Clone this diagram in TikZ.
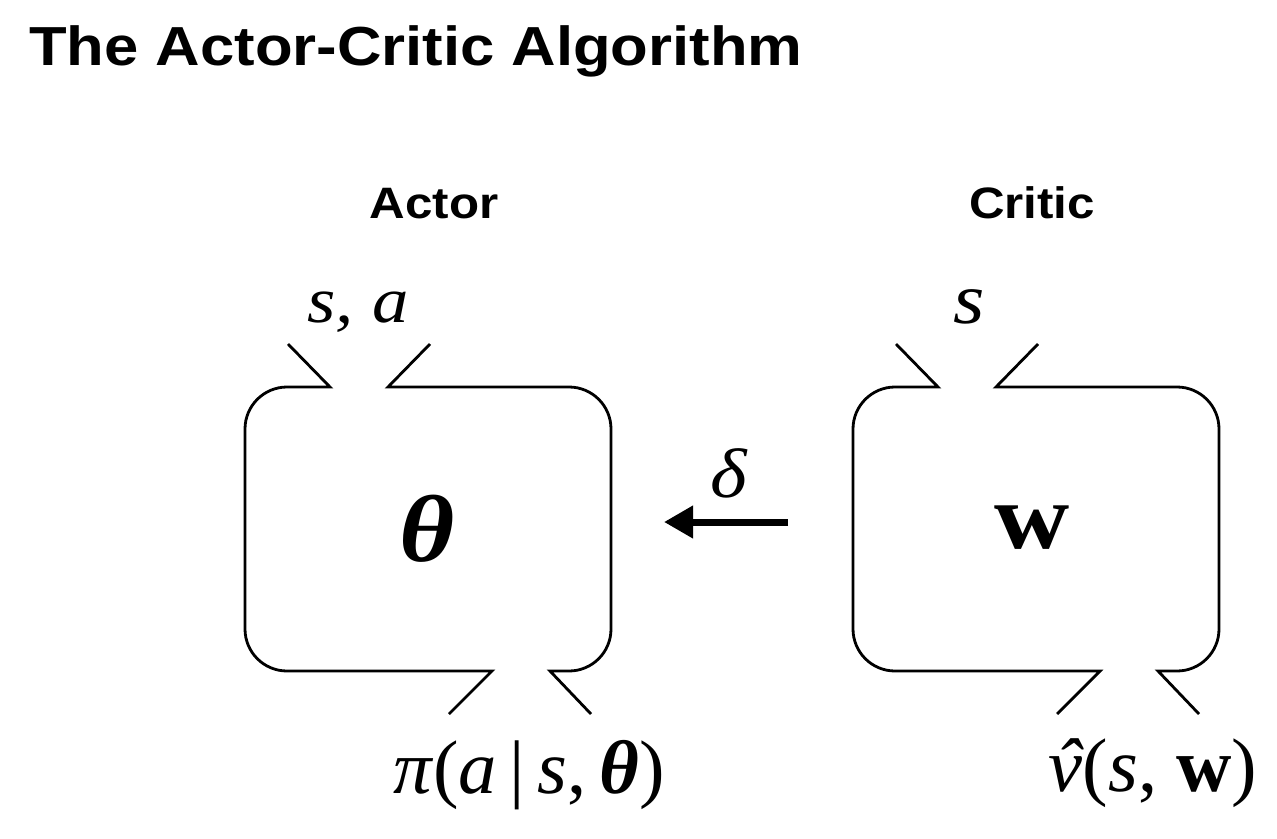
\documentclass[tikz,border=0pt]{standalone}
\usepackage{fontspec}
\setmainfont{Liberation Serif}
\setsansfont{Liberation Sans}
\usetikzlibrary{arrows.meta}

\newcommand{\fsz}[1]{\fontsize{#1}{#1}\selectfont}
\newcommand{\vhat}{\ooalign{\textit{v}\cr\hidewidth\kern.1em\textit{ˆ}\hidewidth\cr}}

\begin{document}
\begin{tikzpicture}[x=1pt,y=-1pt,
  head/.style={font=\sffamily\bfseries\fsz{44},inner sep=0pt,xscale=1.12,anchor=base},
  sym/.style={inner sep=0pt,xscale=1.12,anchor=base},
  box/.style={line width=2.8pt,line join=miter}]
\useasboundingbox (0,0) rectangle (1277,838);
\node[head,anchor=base west,font=\sffamily\bfseries\fsz{55}] (title) at (29,65) {The Actor-Critic Algorithm};
\node[head] (actorlab) at (434,218) {Actor};
\node[head] (criticlab) at (1032,218) {Critic};
% both boxes share one outline, the critic is shifted right
\foreach \dx in {0,608} {
  \begin{scope}[shift={(\dx,0)}]
    \draw[box] (449,714) -- (492,671) [rounded corners=42pt] -- (245,671) -- (245,387) [sharp corners] -- (330,387) -- (288,344);
    \draw[box] (430,344) -- (388,387) [rounded corners=42pt] -- (611,387) -- (611,671) [sharp corners] -- (550,671) -- (591,714);
  \end{scope}
}
\node[sym,font=\itshape\fsz{65}] (actorin) at (358,322) {s, a};
\node[sym,font=\itshape\fsz{72}] (criticin) at (969,323) {s};
\node[sym,font=\bfseries\itshape\fsz{95}] (theta) at (427,561) {θ};
\node[sym,font=\bfseries\fsz{93}] (wvec) at (1032,548) {w};
\node[sym,xscale=0.9,font=\fsz{76}] (piout) at (529,793) {\textit{π}(\textit{a}\,|\,\textit{s},\,\textbf{\textit{θ}})};
\node[sym,xscale=0.9,font=\fsz{76}] (vout) at (1153,791) {\vhat(\textit{s}, \textbf{w})};
% delta signal from critic to actor
\node[sym,font=\itshape\fsz{70}] (delta) at (729,497) {δ};
\coordinate (dtail) at (788,522);
\coordinate (dtip) at (664,522);
\draw[line width=7pt,-{Triangle[length=29pt,width=31pt]}] (dtail) -- (dtip);
\end{tikzpicture}
\end{document}
